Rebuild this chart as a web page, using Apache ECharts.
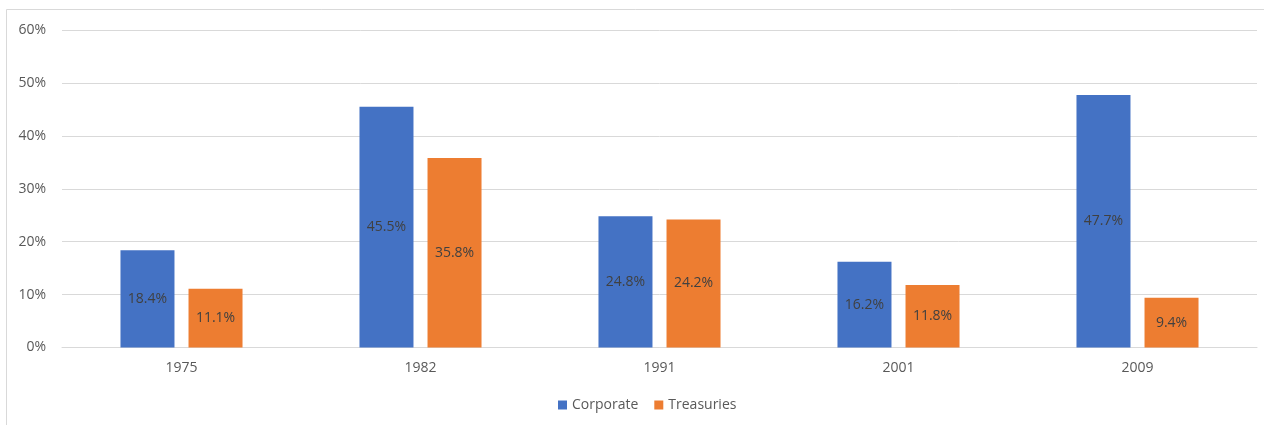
<!DOCTYPE html>
<html>
<head>
<meta charset="utf-8">
<script src="https://cdn.jsdelivr.net/npm/echarts@6/dist/echarts.min.js"></script>
<style>
  html, body { margin: 0; padding: 0; background: #fff; }
  #chart { width: 1264px; height: 425px; }
</style>
</head>
<body>
<div id="chart"></div>
<script>
// Years on the category axis
const years = ['1975', '1982', '1991', '2001', '2009'];
// Percent values per series
const corporate = [18.4, 45.5, 24.8, 16.2, 47.7];
const treasuries = [11.1, 35.8, 24.2, 11.8, 9.4];
// Value axis ticks (percent)
const yTicks = [0, 10, 20, 30, 40, 50, 60];

const font = "'Open Sans', 'Noto Sans', sans-serif";
const chart = echarts.init(document.getElementById('chart'));

const labelStyle = {
  show: true,
  position: 'inside',
  color: '#404040',
  fontFamily: font,
  fontSize: 14,
  formatter: p => p.value.toFixed(1) + '%'
};

chart.setOption({
  animation: false,
  backgroundColor: '#ffffff',
  graphic: [{
    type: 'rect',
    shape: { x: 6.5, y: 9.5, width: 1300, height: 500 },
    style: { fill: 'none', stroke: '#d9d9d9', lineWidth: 1 },
    silent: true
  }],
  grid: { left: 62, right: 7, top: 30, bottom: 77.5, containLabel: false },
  legend: {
    bottom: 8,
    left: 553,
    itemWidth: 9,
    itemHeight: 9,
    itemGap: 16,
    icon: 'rect',
    textStyle: { color: '#595959', fontFamily: font, fontSize: 14 },
    data: ['Corporate', 'Treasuries']
  },
  xAxis: {
    type: 'category',
    data: years,
    axisLine: { lineStyle: { color: '#d9d9d9', width: 1 } },
    axisTick: { show: false },
    axisLabel: { color: '#595959', fontFamily: font, fontSize: 14, margin: 14 }
  },
  yAxis: {
    type: 'value',
    min: yTicks[0],
    max: yTicks[yTicks.length - 1],
    interval: 10,
    axisLine: { show: false },
    axisTick: { show: false },
    splitLine: { lineStyle: { color: '#d9d9d9', width: 1 } },
    axisLabel: {
      color: '#595959', fontFamily: font, fontSize: 14, margin: 16,
      formatter: v => v + '%'
    }
  },
  series: [
    {
      name: 'Corporate',
      type: 'bar',
      data: corporate,
      barWidth: 54,
      barGap: '26%',
      itemStyle: { color: '#4472c4' },
      label: labelStyle
    },
    {
      name: 'Treasuries',
      type: 'bar',
      data: treasuries,
      barWidth: 54,
      barGap: '26%',
      itemStyle: { color: '#ed7d31' },
      label: labelStyle
    }
  ]
});
</script>
</body>
</html>
